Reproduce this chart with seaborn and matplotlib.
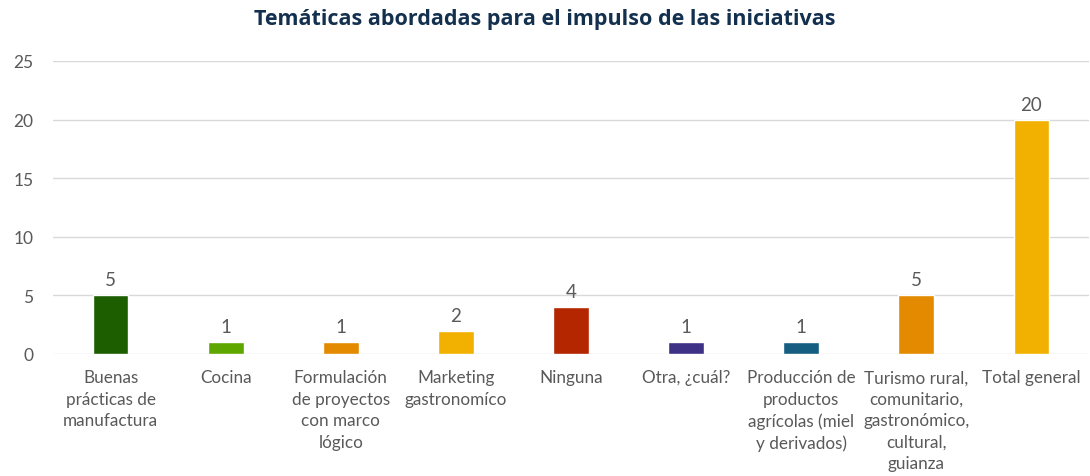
import matplotlib
matplotlib.use("Agg")
import matplotlib.pyplot as plt
import seaborn as sns
import pandas as pd

categories = [
    "Buenas\nprácticas de\nmanufactura",
    "Cocina",
    "Formulación\nde proyectos\ncon marco\nlógico",
    "Marketing\ngastronomíco",
    "Ninguna",
    "Otra, ¿cuál?",
    "Producción de\nproductos\nagrícolas (miel\ny derivados)",
    "Turismo rural,\ncomunitario,\ngastronómico,\ncultural,\nguianza",
    "Total general",
]
values = [5, 1, 1, 2, 4, 1, 1, 5, 20]
colors = ["#1D5E00", "#5EA700", "#E38A00", "#F2B100", "#B32600",
          "#3E3286", "#155E82", "#E38A00", "#F2B100"]
yticks = [0, 5, 10, 15, 20, 25]
title = "Temáticas abordadas para el impulso de las iniciativas"

sns.set_theme(style="white")
plt.rcParams['font.family'] = ['Lato', 'DejaVu Sans']

df = pd.DataFrame({"cat": categories, "val": values})

fig = plt.figure(figsize=(10.9, 4.77), dpi=100)
ax = fig.add_axes([53/1090, 1-355/477, 1036/1090, (355-62)/477])

sns.barplot(data=df, x="cat", y="val", hue="cat", palette=colors,
            legend=False, width=0.31, ax=ax, saturation=1)

ax.set_ylim(0, 25)
ax.set_xlim(-0.5, len(categories) - 0.5)
ax.set_yticks(yticks)
ax.yaxis.grid(True, color="#D9D9D9", linewidth=1)
ax.set_axisbelow(True)
for s in ax.spines.values():
    s.set_visible(False)
ax.set_xlabel("")
ax.set_ylabel("")
ax.tick_params(axis="y", labelsize=12.5, colors="#595959", length=0, pad=14)
ax.tick_params(axis="x", labelsize=12.3, colors="#595959", length=0, pad=11)
for lbl in ax.get_xticklabels():
    lbl.set_linespacing(1.42)

for c in ax.containers:
    ax.bar_label(c, labels=[f"{int(round(v))}" for v in c.datavalues], padding=5,
                 fontsize=13.5, color="#595959")

fig.text(0.5, 1-20/477, title, ha="center", va="center", fontsize=15.5,
         fontweight="bold", color="#14304F", family=["Open Sans", "DejaVu Sans"])

fig.savefig("out.png", dpi=100)
